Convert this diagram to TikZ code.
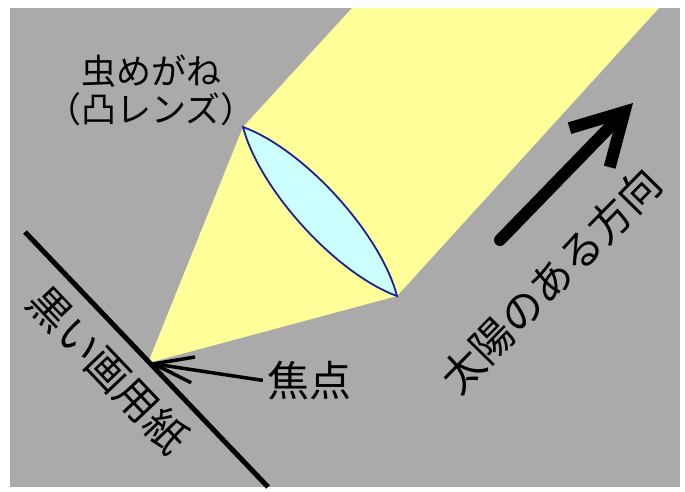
\documentclass[tikz,border=0pt]{standalone}
\usepackage{fontspec}
\newfontfamily\jpfont{Noto Sans CJK JP}
\usetikzlibrary{arrows.meta}

\definecolor{bggray}{RGB}{170,170,170}
\definecolor{beam}{RGB}{255,255,153}
\definecolor{glass}{RGB}{204,255,255}
\definecolor{glassedge}{RGB}{30,30,160}

\tikzset{
  label/.style={inner sep=0pt, font=\jpfont\fontsize{42}{46}\selectfont},
  pointer/.style={line width=3.5pt, -{Straight Barb[length=40pt,width=26pt]}},
  sunarrow/.style={line width=12pt, line cap=round, -{Straight Barb[length=50pt,width=56pt]}},
}

\begin{document}
\begin{tikzpicture}[x=1pt,y=-1pt]
\useasboundingbox (0,0) rectangle (685,491);
\fill[white] (0,0) rectangle (685,491);
\fill[bggray] (10,8) rectangle (680,487);

\coordinate (lensA) at (243,127);
\coordinate (lensB) at (397,296);
\coordinate (focus) at (148,363);

% light through the lens
\fill[beam] (352,8) -- (lensA) -- (focus) -- (lensB) -- (659,8) -- cycle;
\draw[glassedge, fill=glass, line width=1.8pt]
  (lensA) .. controls (303.7,149.1) and (380.7,233.6) .. (lensB)
          .. controls (336.3,274) and (259.3,189.5) .. (lensA) -- cycle;

% paper
\coordinate (paperTop) at (25,232);
\coordinate (paperEnd) at (268,487);
\draw[line width=5pt] (paperTop) -- (paperEnd);

\node[label, align=center, font=\jpfont\fontsize{35}{38}\selectfont] (lens) at (151,90) {虫めがね\\（凸レンズ）};
\node[label] (focustext) at (309,381) {焦点};
\node[label, rotate=-46.5] (paper) at (108,370) {黒い画用紙};
\node[label, rotate=45.5] (sun) at (551,280) {太陽のある方向};

\coordinate (sunTail) at (500,240);
\coordinate (sunTip) at (633,103);

\path
    (focustext.west) edge[pointer, shorten <=4pt] (focus)
    (sunTail) edge[sunarrow] (sunTip);
\end{tikzpicture}
\end{document}
